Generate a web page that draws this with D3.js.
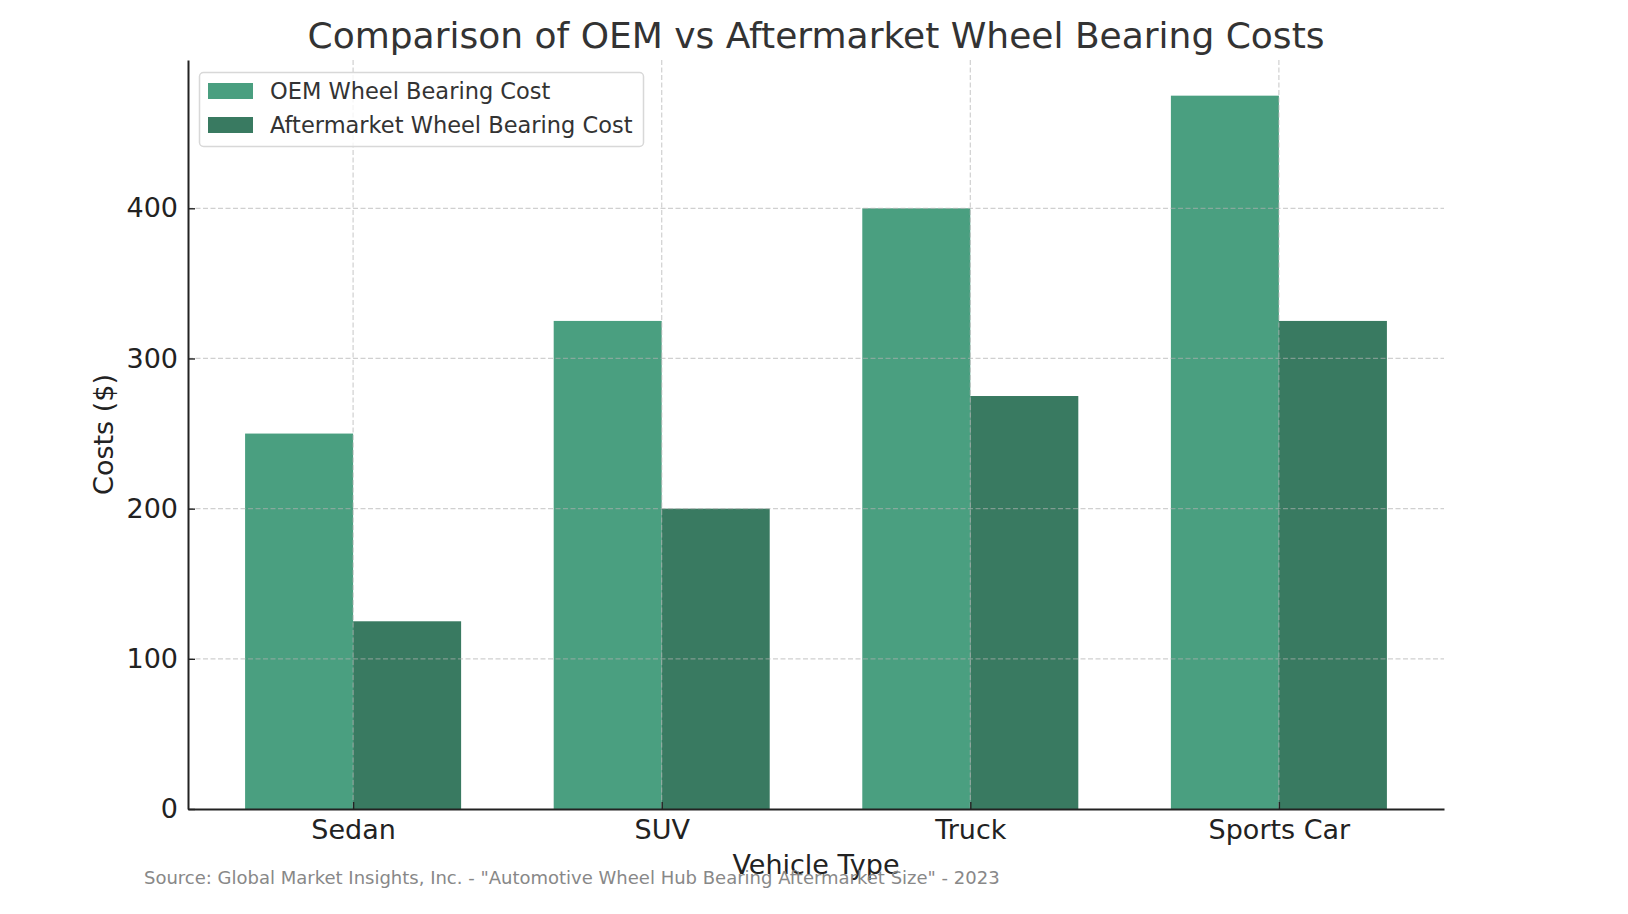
<!DOCTYPE html>
<html>
<head>
<meta charset="utf-8">
<script src="https://cdn.jsdelivr.net/npm/d3@7"></script>
<style>
  html, body { margin: 0; padding: 0; background: #fff; }
  svg { display: block; font-family: "DejaVu Sans", sans-serif; }
</style>
</head>
<body>
<script>
const categories = ["Sedan", "SUV", "Truck", "Sports Car"];
const oemCosts = [250, 325, 400, 475];
const aftermarketCosts = [125, 200, 275, 325];
const seriesNames = ["OEM Wheel Bearing Cost", "Aftermarket Wheel Bearing Cost"];
const seriesColors = ["#4a9f80", "#397a61"];
const yTicks = [0, 100, 200, 300, 400];
const titleText = "Comparison of OEM vs Aftermarket Wheel Bearing Costs";
const xLabel = "Vehicle Type";
const yLabel = "Costs ($)";
const sourceText = 'Source: Global Market Insights, Inc. - "Automotive Wheel Hub Bearing Aftermarket Size" - 2023';

const W = 1628, H = 914;
const m = { left: 188, right: 1444, top: 60, bottom: 809 };
const barW = 0.35;

const svg = d3.select("body").append("svg").attr("width", W).attr("height", H);

const n = categories.length;
const xPad = (n - 1 + 2 * barW) * 0.05;
const x = d3.scaleLinear().domain([-barW - xPad, n - 1 + barW + xPad]).range([m.left, m.right]);
const y = d3.scaleLinear().domain([0, d3.max(oemCosts.concat(aftermarketCosts)) * 1.05]).range([m.bottom, m.top]);

// bars
const series = [oemCosts, aftermarketCosts];
series.forEach((vals, si) => {
  svg.append("g").selectAll("rect").data(vals).join("rect")
    .attr("x", (d, i) => x(i + (si === 0 ? -barW : 0)))
    .attr("width", (d, i) => x(i + barW) - x(i))
    .attr("y", d => y(d))
    .attr("height", d => y(0) - y(d))
    .attr("fill", seriesColors[si]);
});

// grid (on top of bars)
const grid = svg.append("g").attr("stroke", "#b0b0b0").attr("stroke-opacity", 0.6)
  .attr("stroke-width", 1.2).attr("stroke-dasharray", "5,2.5");
grid.selectAll("line.h").data(yTicks.filter(t => t > 0)).join("line")
  .attr("x1", m.left).attr("x2", m.right).attr("y1", d => y(d)).attr("y2", d => y(d));
grid.selectAll("line.v").data(d3.range(n)).join("line")
  .attr("y1", m.top).attr("y2", m.bottom).attr("x1", d => x(d)).attr("x2", d => x(d));

// axes
const xAxis = d3.axisBottom(x).tickValues(d3.range(n)).tickFormat(i => categories[i])
  .tickSizeInner(-7).tickSizeOuter(0).tickPadding(11);
const gx = svg.append("g").attr("transform", `translate(0,${m.bottom})`).call(xAxis);
gx.select(".domain").attr("stroke", "#222").attr("stroke-width", 2);
gx.selectAll(".tick line").attr("stroke", "#222").attr("stroke-width", 1.4);
gx.selectAll(".tick text").attr("font-size", 27).attr("fill", "#222")
  .attr("font-family", "DejaVu Sans");

const yAxis = d3.axisLeft(y).tickValues(yTicks).tickSizeInner(-7).tickSizeOuter(0).tickPadding(10);
const gy = svg.append("g").attr("transform", `translate(${m.left},0)`).call(yAxis);
gy.select(".domain").attr("stroke", "#222").attr("stroke-width", 2);
gy.selectAll(".tick line").attr("stroke", "#222").attr("stroke-width", 1.4);
gy.selectAll(".tick text").attr("font-size", 27).attr("fill", "#222")
  .attr("font-family", "DejaVu Sans");

// title
svg.append("text").attr("x", (m.left + m.right) / 2).attr("y", 48)
  .attr("text-anchor", "middle").attr("font-size", 36).attr("fill", "#333").text(titleText);

// axis labels
svg.append("text").attr("x", (m.left + m.right) / 2).attr("y", 874)
  .attr("text-anchor", "middle").attr("font-size", 27).attr("fill", "#222").text(xLabel);
svg.append("text").attr("transform", `translate(113,${(m.top + m.bottom) / 2}) rotate(-90)`)
  .attr("text-anchor", "middle").attr("font-size", 27).attr("fill", "#222").text(yLabel);

// source
svg.append("text").attr("x", 144).attr("y", 884).attr("font-size", 18)
  .attr("fill", "#888").text(sourceText);

// legend
const lg = svg.append("g");
lg.append("rect").attr("x", 199.5).attr("y", 72.5).attr("width", 444).attr("height", 74)
  .attr("rx", 4).attr("fill", "#fff").attr("fill-opacity", 0.8).attr("stroke", "#d8d8d8").attr("stroke-width", 1.5);
seriesNames.forEach((s, i) => {
  const yy = 83 + i * 34;
  lg.append("rect").attr("x", 208).attr("y", yy).attr("width", 45).attr("height", 16).attr("fill", seriesColors[i]);
  lg.append("text").attr("x", 270).attr("y", yy + 16).attr("font-size", 22.5).attr("fill", "#333").text(s);
});
</script>
</body>
</html>
